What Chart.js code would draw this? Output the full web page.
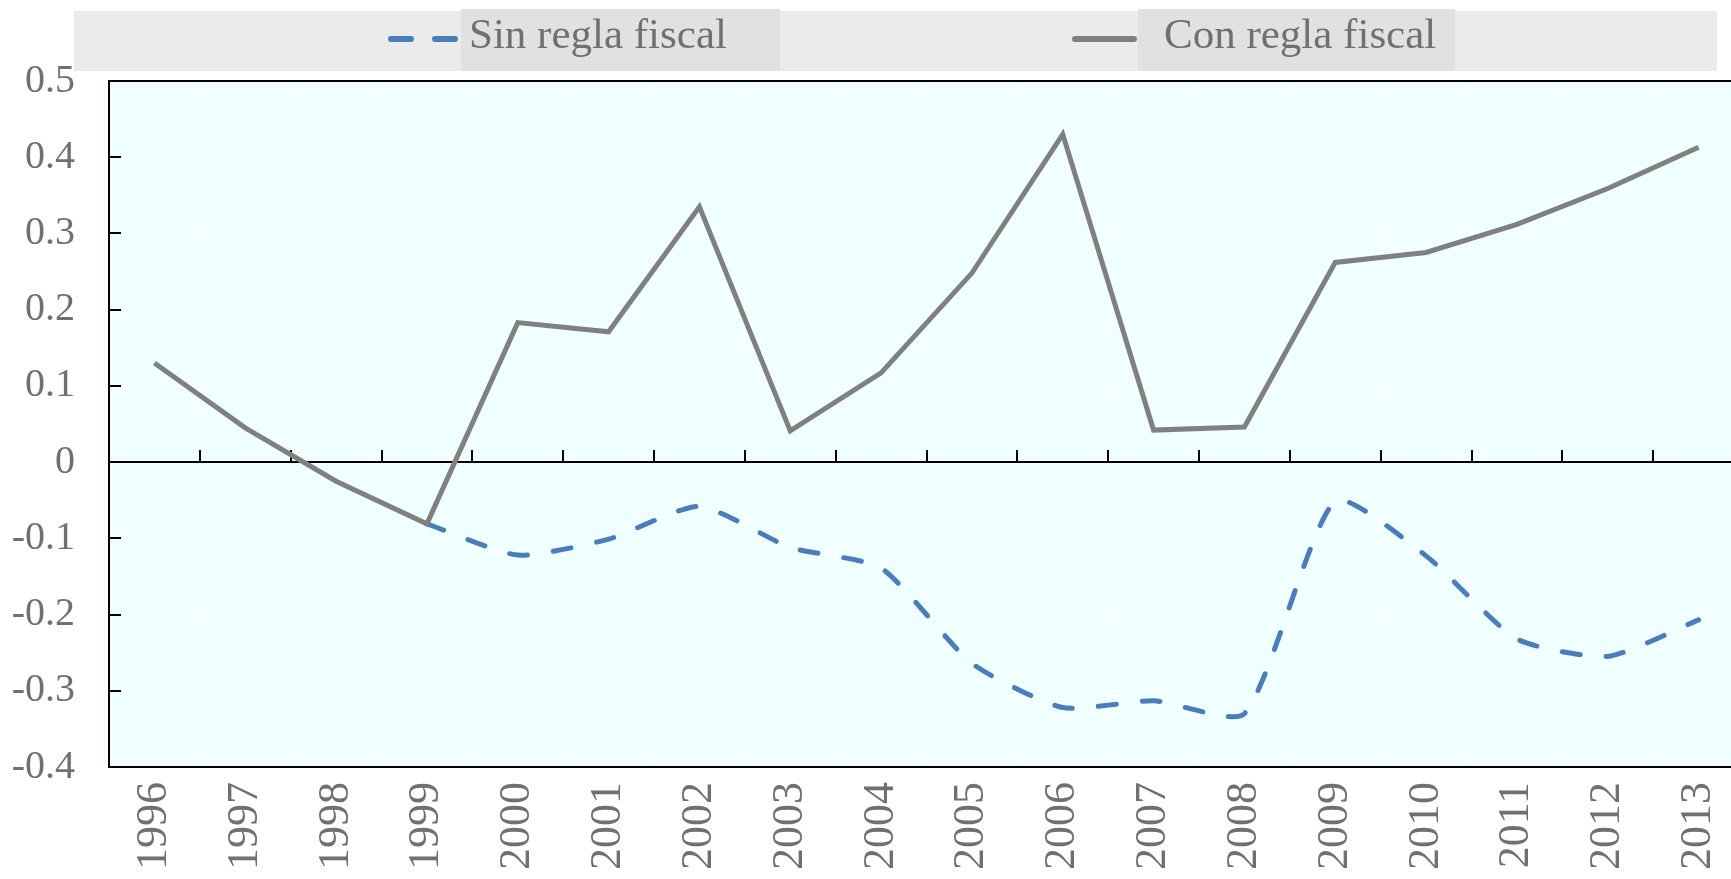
<!DOCTYPE html>
<html>
<head>
<meta charset="utf-8">
<script src="https://cdn.jsdelivr.net/npm/chart.js@4.4.1/dist/chart.umd.min.js"></script>
<style>
  html, body { margin: 0; padding: 0; overflow: hidden; background: #fff; }
  #wrap { position: relative; width: 1748px; height: 879px; }
  #legend-band { position: absolute; left: 74px; top: 11px; width: 1643px; height: 60px; background: #ebebeb; }
  .leg-box { position: absolute; top: 9px; height: 62px; background: #e1e1e1; }
  .leg-text { position: absolute; top: 12px; font: 43px "Liberation Serif", serif; line-height: 43px; color: #707070; white-space: nowrap; }
  .leg-line { position: absolute; top: 33px; }
</style>
</head>
<body>
<div id="wrap">
  <div id="legend-band"></div>
  <div id="legend"></div>
  <canvas id="myChart"></canvas>
</div>
<script>
const years = ['1996', '1997', '1998', '1999', '2000', '2001', '2002', '2003', '2004',
  '2005', '2006', '2007', '2008', '2009', '2010', '2011', '2012', '2013']

const conRegla = [0.130, 0.045, -0.025, -0.081, 0.183, 0.171, 0.335, 0.041, 0.117,
  0.248, 0.430, 0.042, 0.046, 0.262, 0.275, 0.312, 0.359, 0.413]

const sinRegla = [null, null, null, -0.081, -0.122, -0.101, -0.058, -0.112, -0.139,
  -0.264, -0.322, -0.313, -0.330, -0.051, -0.123, -0.232, -0.255, -0.207]

const yTickLabels = ['-0.4', '-0.3', '-0.2', '-0.1', '0', '0.1', '0.2', '0.3', '0.4', '0.5']

const BLUE = '#4a7ebb'
const GRAY = '#808080'
const TEXT = '#707070'

// legend drawn as html so the grey boxes behind the labels can be matched
function buildLegend() {
    const el = document.getElementById('legend')
    const items = [
        { label: 'Sin regla fiscal', color: BLUE, dash: true, boxLeft: 461, boxWidth: 319, textLeft: 469, lineLeft: 387, lineWidth: 72 },
        { label: 'Con regla fiscal', color: GRAY, dash: false, boxLeft: 1138, boxWidth: 317, textLeft: 1164, lineLeft: 1071, lineWidth: 67 }
    ]
    items.forEach(it => {
        el.innerHTML += `<div class="leg-box" style="left:${it.boxLeft}px;width:${it.boxWidth}px"></div>`
        el.innerHTML += `<svg class="leg-line" style="left:${it.lineLeft}px" width="${it.lineWidth}" height="12">
            <line x1="4" y1="6" x2="${it.lineWidth - 4}" y2="6" stroke="${it.color}" stroke-width="6"
            stroke-linecap="round" ${it.dash ? 'stroke-dasharray="20 24"' : ''}/></svg>`
        el.innerHTML += `<div class="leg-text" style="left:${it.textLeft}px">${it.label}</div>`
    })
}
buildLegend()

const framePlugin = {
    id: 'frame',
    beforeDraw(chart) {
        const { ctx, chartArea: a } = chart
        ctx.save()
        ctx.fillStyle = '#f0ffff'
        ctx.fillRect(a.left, a.top, a.right - a.left, a.bottom - a.top)
        ctx.restore()
    },
    beforeDatasetsDraw(chart) {
        const { ctx, chartArea: a, scales } = chart
        const xs = scales.x, ys = scales.y
        const zeroY = ys.getPixelForValue(0)
        ctx.save()
        ctx.strokeStyle = '#000'
        ctx.lineWidth = 2
        // top border
        ctx.beginPath()
        ctx.moveTo(a.left, a.top)
        ctx.lineTo(a.right, a.top)
        ctx.stroke()
        // inward tick marks on the zero line
        for (let i = 1; i < years.length; i++) {
            const x = Math.round((xs.getPixelForValue(i - 1) + xs.getPixelForValue(i)) / 2)
            ctx.beginPath()
            ctx.moveTo(x, zeroY)
            ctx.lineTo(x, zeroY - 12)
            ctx.stroke()
        }
        // inward tick marks on the y axis
        ys.ticks.forEach(t => {
            const y = Math.round(ys.getPixelForValue(t.value))
            ctx.beginPath()
            ctx.moveTo(a.left, y)
            ctx.lineTo(a.left + 12, y)
            ctx.stroke()
        })
        ctx.restore()
    }
}

const ctx = document.getElementById('myChart')
new Chart(ctx, {
    type: 'line',
    data: {
        labels: years,
        datasets: [
            {
                label: 'Con regla fiscal',
                data: conRegla,
                borderColor: GRAY,
                borderWidth: 5,
                pointRadius: 0,
                tension: 0,
                order: 0
            },
            {
                label: 'Sin regla fiscal',
                data: sinRegla,
                borderColor: BLUE,
                borderWidth: 5,
                borderDash: [18, 26],
                borderCapStyle: 'round',
                pointRadius: 0,
                tension: 0.2,
                order: 1
            }
        ]
    },
    options: {
        responsive: true,
        maintainAspectRatio: false,
        animation: false,
        layout: { padding: { top: 81, right: 4, left: 0, bottom: 0 } },
        plugins: {
            legend: { display: false },
            tooltip: { enabled: false }
        },
        scales: {
            x: {
                offset: true,
                grid: { offset: true, color: '#ffffff', lineWidth: 1, drawTicks: false },
                border: { color: '#000', width: 2 },
                ticks: {
                    color: TEXT,
                    font: { family: 'Liberation Serif', size: 44 },
                    minRotation: 90,
                    maxRotation: 90,
                    padding: 15,
                    autoSkip: false
                },
                afterFit(scale) {
                    scale.height = 112
                    scale.paddingLeft = 0
                    scale.paddingRight = 0
                }
            },
            y: {
                min: -0.4,
                max: 0.5,
                ticks: {
                    stepSize: 0.1,
                    color: TEXT,
                    font: { family: 'Liberation Serif', size: 40 },
                    padding: 34,
                    callback: (value, index) => yTickLabels[index]
                },
                grid: {
                    drawTicks: false,
                    color: c => (c.tick && Math.abs(c.tick.value) < 1e-9) ? '#000' : '#ffffff',
                    lineWidth: c => (c.tick && Math.abs(c.tick.value) < 1e-9) ? 2 : 1
                },
                border: { color: '#000', width: 2 },
                afterFit(scale) { scale.width = 109 }
            }
        }
    },
    plugins: [framePlugin]
})
</script>
</body>
</html>
